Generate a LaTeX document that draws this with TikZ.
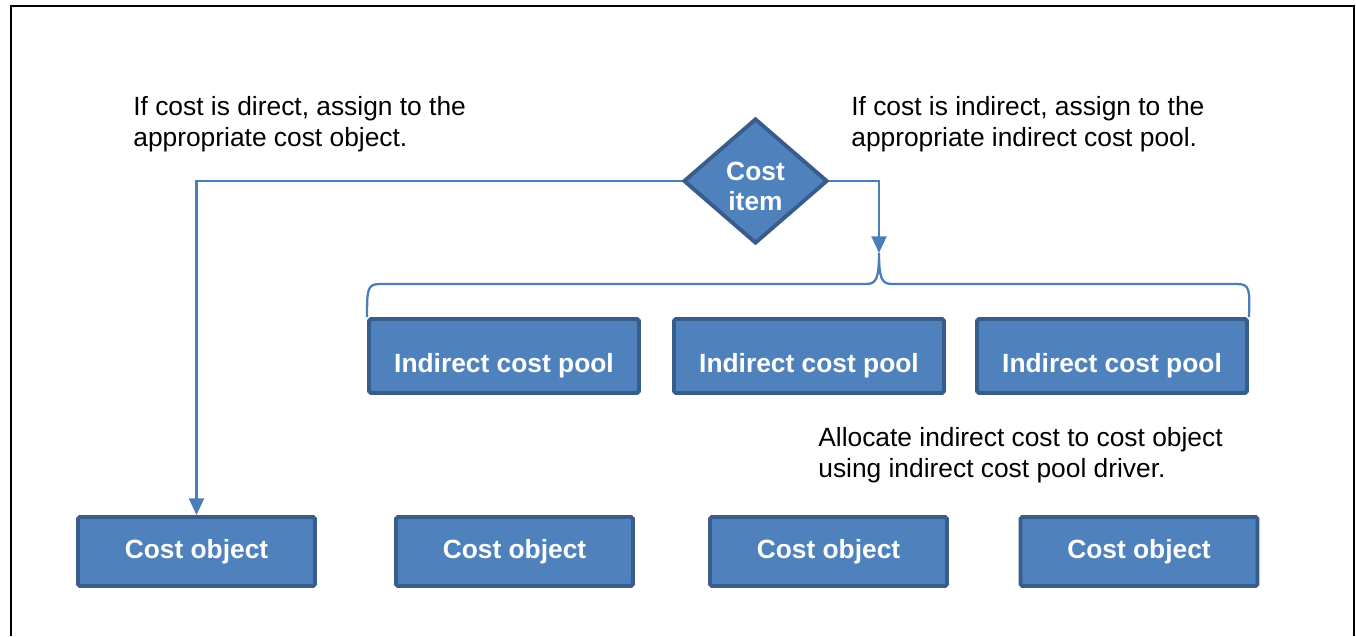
\documentclass[tikz,border=0pt]{standalone}
\usepackage{fontspec}
\setmainfont{Liberation Sans}
\usepackage{tikz}
\usetikzlibrary{shapes.geometric,arrows.meta}
\definecolor{boxblue}{HTML}{4F81BD}
\definecolor{boxedge}{HTML}{385D8A}
\definecolor{flowblue}{HTML}{4A7EBB}

\begin{document}
\begin{tikzpicture}[x=0.02cm, y=-0.02cm,
                    pool/.style={rectangle, rounded corners=1pt, fill=boxblue, draw=boxedge,
                        line width=2.2pt, text=white, font=\fontsize{15}{17.6}\selectfont\bfseries,
                        minimum width=5.4cm, minimum height=1.48cm, text height=22pt, text depth=3pt},
                    costobj/.style={pool, minimum width=4.74cm, minimum height=1.38cm,
                        text height=, text depth=},
                    itemtext/.style={text=white, align=center, yshift=-0.11cm,
                        font=\fontsize{15}{17.2}\selectfont\bfseries},
                    flow/.style={draw=flowblue, line width=1.3pt},
                    note/.style={anchor=north west, inner sep=0pt, align=left,
                        font=\fontsize{15}{17.6}\selectfont}]
                                      \useasboundingbox (0, 0) rectangle (1356, 636);
                                      \draw [line width=1.2pt] (11, 636) -- (11, 6) -- (1354, 6) -- (1354, 636);
                                      \node [note] (directnote) at (133, 96) {If cost is direct, assign to the\\appropriate cost object.};
                                      \node [note] (indirectnote) at (851, 96) {If cost is indirect, assign to the\\appropriate indirect cost pool.};
                                      \node [note] (allocnote) at (818, 427) {Allocate indirect cost to cost object\\using indirect cost pool driver.};
                                      \node [diamond, fill=boxblue, draw=boxedge, line width=2.2pt, inner sep=0pt,
                                          minimum width=2.88cm, minimum height=2.5cm,
                                          label={[itemtext]center:{Cost\\item}}] (item) at (755.5, 181) {};
                                      \node [pool] (pool1) at (504, 356) {Indirect cost pool};
                                      \node [pool] (pool2) at (809, 356) {Indirect cost pool};
                                      \node [pool] (pool3) at (1112, 356) {Indirect cost pool};
                                      \node [costobj] (obj1) at (196.5, 551.5) {Cost object};
                                      \node [costobj] (obj2) at (514.5, 551.5) {Cost object};
                                      \node [costobj] (obj3) at (828.5, 551.5) {Cost object};
                                      \node [costobj] (obj4) at (1139, 551.5) {Cost object};
                                      \coordinate (peak) at (879, 253);
                                      \begin{scope}[flow]
                                                  \draw [-{Triangle[length=9.5pt,width=8.5pt]}] (item.west) -| (obj1.north);
                                                  \draw [-{Triangle[length=9.5pt,width=8.5pt]}] (item.east) -| (peak);
                                                  \draw (pool1.north west) .. controls (367, 290) and (367, 284) .. (380, 284) -- (866, 284)
                                                      .. controls (876, 284) and (879, 279) .. (peak)
                                                      .. controls (879, 279) and (882, 284) .. (892, 284) -- (1237, 284)
                                                      .. controls (1250, 284) and (1250, 290) .. (pool3.north east);
                                                  \end{scope}
                                                  \end{tikzpicture}
\end{document}
